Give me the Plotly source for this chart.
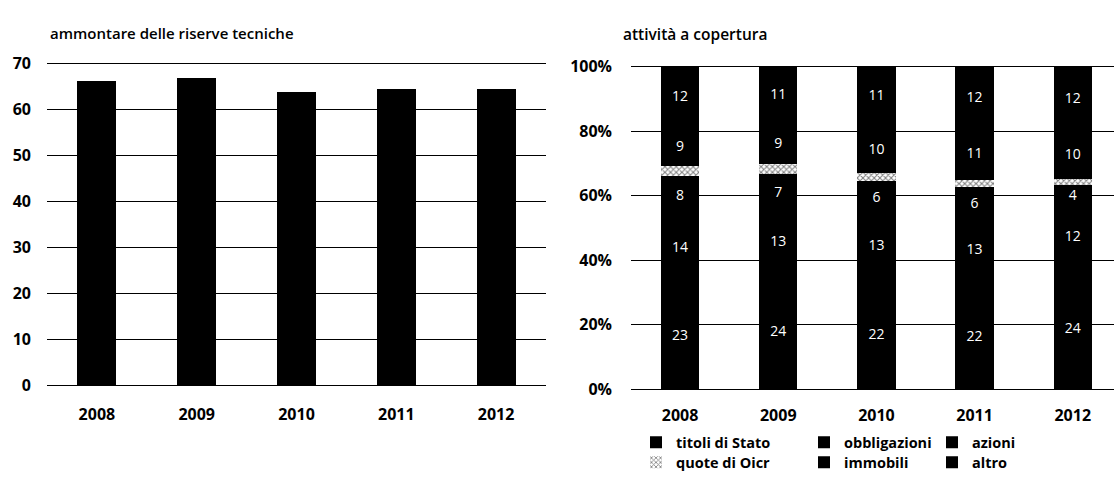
import plotly.graph_objects as go
import numpy as np

# ---- data ----
anni = ["2008", "2009", "2010", "2011", "2012"]

# ammontare delle riserve tecniche (miliardi di euro)
riserve_tecniche = [66.2, 67.0, 63.8, 64.5, 64.6]

# attività a copertura (miliardi di euro)
titoli_stato = [23, 24, 22, 22, 24]
obbligazioni = [14, 13, 13, 13, 12]
azioni = [8, 7, 6, 6, 4]
quote_oicr = [2, 2, 1.5, 1.5, 1]
immobili = [9, 9, 10, 11, 10]
altro = [12, 11, 11, 12, 12]

y_ticks_left = [0, 10, 20, 30, 40, 50, 60, 70]
y_ticks_right = [0, 20, 40, 60, 80, 100]
y_labels_right = ["0%", "20%", "40%", "60%", "80%", "100%"]

FONT = "Open Sans"
W, H = 1114, 483

componenti = [
    ("titoli di Stato", titoli_stato, True),
    ("obbligazioni", obbligazioni, True),
    ("azioni", azioni, True),
    ("quote di Oicr", quote_oicr, False),
    ("immobili", immobili, True),
    ("altro", altro, True),
]
totale = np.sum([np.array(v, dtype=float) for _, v, _ in componenti], axis=0)

fig = go.Figure()

# left panel: technical reserves
fig.add_trace(go.Bar(
    x=anni, y=riserve_tecniche, xaxis="x", yaxis="y",
    marker=dict(color="black", line=dict(width=0)),
    showlegend=False, hoverinfo="x+y",
))

# right panel: composition of covering assets as share of total
legend_pos = [
    (636, 450), (804, 450), (932, 450),
    (636, 471), (804, 471), (932, 471),
]
for i, (nome, valori, etichetta) in enumerate(componenti):
    quota = np.array(valori, dtype=float) / totale * 100
    lg = "legend" if i == 0 else f"legend{i + 1}"
    if nome == "quote di Oicr":
        marker = dict(color="white", line=dict(width=0),
                      pattern=dict(shape="x", fgcolor="black", bgcolor="white",
                                   size=4, solidity=0.45))
    else:
        marker = dict(color="black", line=dict(width=0))
    fig.add_trace(go.Bar(
        x=anni, y=quota, xaxis="x2", yaxis="y2",
        name=nome, legend=lg, marker=marker,
        text=[f"{v:g}" for v in valori] if etichetta else None,
        textposition="inside" if etichetta else "none",
        insidetextanchor="middle", textangle=0,
        textfont=dict(family=FONT, size=14, color="white"),
        customdata=valori, hovertemplate="%{x}: %{customdata}<extra>" + nome + "</extra>",
    ))

layout_legends = {}
for i, (lx, ly) in enumerate(legend_pos):
    key = "legend" if i == 0 else f"legend{i + 1}"
    layout_legends[key] = dict(
        x=lx / W, y=1 - ly / H, xanchor="left", yanchor="middle",
        orientation="h", bgcolor="rgba(0,0,0,0)", borderwidth=0,
        itemwidth=30, tracegroupgap=0,
        font=dict(family=FONT, size=14.5, color="black", weight="bold"),
    )

axis_font = dict(family=FONT, size=16, color="black", weight="bold")

fig.update_layout(
    width=W, height=H,
    margin=dict(l=0, r=0, t=0, b=0),
    paper_bgcolor="white", plot_bgcolor="white",
    barmode="stack", bargap=0.61,
    uniformtext=dict(minsize=14, mode="show"),
    font=dict(family=FONT, color="black"),
    xaxis=dict(domain=[47 / W, 546 / W], anchor="y", type="category",
               showgrid=False, zeroline=False, showline=False, ticks="",
               tickfont=axis_font, ticklabelstandoff=16, fixedrange=True),
    yaxis=dict(domain=[1 - 393 / H, 1 - 55 / H], anchor="x", range=[-0.42, 70.42],
               tickvals=y_ticks_left, showgrid=True, gridcolor="black", gridwidth=1.3,
               zeroline=False, showline=False, ticks="",
               tickfont=axis_font, ticklabelstandoff=15, fixedrange=True),
    xaxis2=dict(domain=[631 / W, 1.0], anchor="y2", type="category",
                range=[-0.5, 4.42],
                showgrid=False, zeroline=False, showline=False, ticks="",
                tickfont=axis_font, ticklabelstandoff=13, fixedrange=True),
    yaxis2=dict(domain=[1 - 397 / H, 1 - 58 / H], anchor="x2", range=[-0.6, 100.6],
                tickvals=y_ticks_right, ticktext=y_labels_right,
                showgrid=True, gridcolor="black", gridwidth=1.3,
                zeroline=False, showline=False, ticks="",
                tickfont=axis_font, ticklabelstandoff=18, fixedrange=True),
    annotations=[
        dict(text="ammontare delle riserve tecniche", xref="paper", yref="paper",
             x=48 / W, y=1 - 25 / H, xanchor="left", yanchor="middle", showarrow=False,
             font=dict(family=FONT, size=15, color="black", weight=600)),
        dict(text="attività a copertura", xref="paper", yref="paper",
             x=621 / W, y=1 - 26 / H, xanchor="left", yanchor="middle", showarrow=False,
             font=dict(family=FONT, size=15.5, color="black", weight=600)),
    ],
    **layout_legends,
)

fig.write_html("out.html")
